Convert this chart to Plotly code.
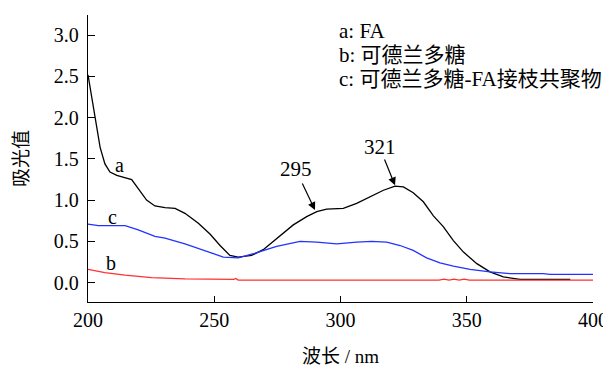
import plotly.graph_objects as go

# Curve a: FA
wl_a = [200, 202, 203.4, 204.8, 206.7, 208.7, 211.4, 214.7, 217.3, 219.9, 223.2, 226.5, 230.5,
        234.5, 238.4, 243.7, 248.3, 252.3, 256.2, 259.5, 264.8, 269.4, 274.7, 281.3, 286.6,
        290.6, 294.5, 301.1, 306.4, 311.7, 317, 321.6, 324.9, 328.8, 332.8, 336.8, 340.7,
        344.7, 348.7, 354, 359.2, 364.5, 371.1, 379, 384.3, 391]
abs_a = [2.52, 2.17, 1.89, 1.64, 1.44, 1.34, 1.30, 1.27, 1.25, 1.14, 1.00, 0.93, 0.91,
         0.90, 0.84, 0.72, 0.59, 0.45, 0.33, 0.31, 0.33, 0.40, 0.53, 0.70, 0.80,
         0.86, 0.89, 0.90, 0.96, 1.04, 1.12, 1.17, 1.16, 1.09, 0.98, 0.81, 0.68,
         0.51, 0.37, 0.23, 0.13, 0.07, 0.04, 0.04, 0.04, 0.04]

# Curve b: curdlan
wl_b = [200, 206.7, 214.7, 225.2, 238.4, 250.3, 257.8, 258.5, 259.5, 300, 339, 341, 343,
        345, 347, 349, 351, 353, 360, 400]
abs_b = [0.16, 0.12, 0.09, 0.06, 0.045, 0.04, 0.04, 0.05, 0.03, 0.03, 0.03, 0.042, 0.03,
         0.042, 0.03, 0.042, 0.03, 0.03, 0.03, 0.03]

# Curve c: curdlan-FA graft copolymer
wl_c = [200, 204.1, 214.7, 219.9, 226.5, 230.5, 238.4, 246.3, 250.3, 253.6, 259.5, 265.5,
        274.7, 284, 290.6, 298.5, 306.4, 312.3, 318.3, 323.6, 328.8, 334.1, 339.4, 344.7,
        351.3, 359.2, 367.1, 380.3, 383, 400]
abs_c = [0.71, 0.69, 0.69, 0.64, 0.56, 0.54, 0.47, 0.39, 0.35, 0.31, 0.30, 0.35,
         0.44, 0.50, 0.49, 0.47, 0.49, 0.50, 0.49, 0.45, 0.39, 0.30, 0.24, 0.20,
         0.16, 0.13, 0.11, 0.11, 0.10, 0.10]

x_ticks = [200, 250, 300, 350, 400]
y_ticks = [0.0, 0.5, 1.0, 1.5, 2.0, 2.5, 3.0]
y_tick_text = ["0.0", "0.5", "1.0", "1.5", "2.0", "2.5", "3.0"]

legend_lines = ["a: FA", "b: 可德兰多糖", "c: 可德兰多糖-FA接枝共聚物"]
x_title = "波长 / nm"
y_title = "吸光值"

FONT = "'Liberation Serif', 'Times New Roman', 'Noto Sans CJK SC', serif"

# page body has an 8px margin, so the figure is placed at (8, 8) in the window
OFF = 8
W, H = 611 - OFF, 367 - OFF
L, R, T, B = 88 - OFF, 18, 15 - OFF, 65

fig = go.Figure()
fig.add_trace(go.Scatter(x=wl_a, y=abs_a, mode="lines", line=dict(color="black", width=1.3), showlegend=False))
fig.add_trace(go.Scatter(x=wl_c, y=abs_c, mode="lines", line=dict(color="#2233ff", width=1.3), showlegend=False))
fig.add_trace(go.Scatter(x=wl_b, y=abs_b, mode="lines", line=dict(color="#ff3030", width=1.3), showlegend=False))

annotations = []
# Curve labels
for txt, x, y in [("a", 212.3, 1.43), ("c", 209.7, 0.80), ("b", 209.1, 0.24)]:
    annotations.append(dict(x=x, y=y, xref="x", yref="y", text=txt, showarrow=False,
                            font=dict(family=FONT, size=20, color="black")))
# Peak labels
for txt, x, y in [("295", 282.4, 1.375), ("321", 315.6, 1.64)]:
    annotations.append(dict(x=x, y=y, xref="x", yref="y", text=txt, showarrow=False,
                            font=dict(family=FONT, size=21, color="black")))
# Arrows
for hx, hy, tx, ty in [(289.9, 0.88, 284.6, 1.22), (321.6, 1.18, 317.2, 1.51)]:
    annotations.append(dict(x=hx, y=hy, ax=tx, ay=ty, xref="x", yref="y", axref="x", ayref="y",
                            text="", showarrow=True, arrowhead=2, arrowsize=1.3, arrowwidth=1.2,
                            arrowcolor="black", standoff=0, startstandoff=0))
# Legend text (window pixel positions, converted below)
for i, txt in enumerate(legend_lines):
    annotations.append(dict(x=337, y=31 + 24 * i, xref="paper", yref="paper", text=txt,
                            showarrow=False, xanchor="left", yanchor="middle",
                            font=dict(family=FONT, size=21, color="black")))

fig.update_layout(
    width=W, height=H,
    margin=dict(l=L, r=R, t=T, b=B, autoexpand=False),
    paper_bgcolor="white", plot_bgcolor="white",
    font=dict(family=FONT, size=20, color="black"),
    annotations=annotations,
)

plot_w = W - L - R
plot_h = H - T - B
for a in fig.layout.annotations:
    if a.xref == "paper":
        a.x = (a.x - OFF - L) / plot_w
        a.y = 1 - (a.y - OFF - T) / plot_h

fig.update_xaxes(range=[200, 400], tickvals=x_ticks, ticks="inside", ticklen=6, tickwidth=1.2,
                 tickcolor="black", showline=True, linecolor="black", linewidth=1.3,
                 showgrid=False, zeroline=False, mirror=False, automargin=False,
                 ticklabeloverflow="allow",
                 tickfont=dict(family=FONT, size=20),
                 title=dict(text=x_title, font=dict(family=FONT, size=19), standoff=20))
fig.update_yaxes(range=[-0.235, 3.245], tickvals=y_ticks, ticktext=y_tick_text, ticks="inside",
                 ticklen=7, tickwidth=1.2, tickcolor="black", showline=True, linecolor="black",
                 linewidth=1.3, showgrid=False, zeroline=False, mirror=False, automargin=False,
                 ticklabeloverflow="allow",
                 tickfont=dict(family=FONT, size=20), ticklabelstandoff=4,
                 title=dict(text=y_title, font=dict(family=FONT, size=19), standoff=20))

fig.write_html("out.html")
